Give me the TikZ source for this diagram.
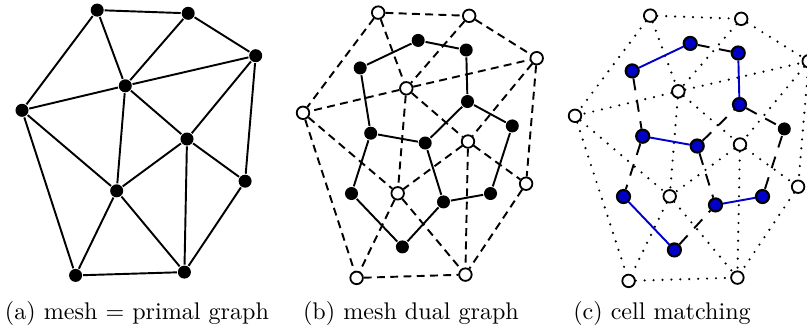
\documentclass[tikz,border=0pt]{standalone}
\usetikzlibrary{calc}
\definecolor{mblue}{RGB}{0,0,200}

\begin{document}
\begin{tikzpicture}[
      x=0.415pt, y=-0.415pt, line width=0.8pt,
      vert/.style={circle, fill, minimum size=5.4pt, inner sep=0pt},
      open/.style={circle, draw, fill=white, minimum size=5.2pt, inner sep=0pt, line width=0.75pt},
      matched/.style={circle, draw, fill=mblue, minimum size=5.4pt, inner sep=0pt, line width=0.9pt},
      dashedge/.style={dash pattern=on 3.3pt off 2.2pt},
      dualdash/.style={dash pattern=on 5pt off 4pt},
      dotedge/.style={line cap=round, dash pattern=on 0pt off 3.7pt, line width=1pt},
      matchedge/.style={mblue},
      every node/.style={font=\normalsize}]

      \useasboundingbox (0,0) rectangle (807,333);

      % mesh vertices, same mesh in every panel
      \foreach \p/\dx/\dy/\st in {a/0/0/vert, b/281/2.5/open, c/553/5.5/open}{
        \foreach \i/\x/\y in {1/97.2/10.1, 2/188.2/13.3, 3/255.7/55.7, 4/125.3/85.8, 5/22/110.3,
                              6/187/139, 7/245.1/181.2, 8/116.7/190.8, 9/75.6/275.4, 10/184.4/272.1}{
          \node[\st] (\p\i) at (\x+\dx, \y+\dy) {};
        }
      }
      % cells = dual vertices
      \foreach \i/\x/\y in {1/137.2/37.9, 2/185.2/47.5, 3/79.2/65.4, 4/89.7/130.7, 5/144.2/140.5, 6/186.5/99,
                            7/231.3/123.4, 8/70.5/191, 9/121.4/244.4, 10/162.5/199.4, 11/209.5/191}{
        \node[vert] (bd\i) at (\x+281, \y+2.5) {};
        \ifnum\i=7
          \node[vert] (cd\i) at (\x+553, \y+5.5) {};
        \else
          \node[matched] (cd\i) at (\x+553, \y+5.5) {};
        \fi
      }

      % mesh edges
      \foreach \p/\st in {a/solid, b/dashedge, c/dotedge}{
        \foreach \u/\v in {1/2, 2/3, 1/5, 1/4, 2/4, 4/3, 4/5, 4/6, 4/8, 3/6, 3/7, 5/8, 5/9,
                           6/8, 6/7, 6/10, 8/9, 8/10, 9/10, 7/10}{
          \draw[\st] (\p\u) -- (\p\v);
        }
      }
      % dual edges
      \foreach \u/\v in {1/3, 1/2, 2/6, 3/4, 5/6, 4/5, 6/7, 4/8, 5/10, 7/11, 10/11, 8/9, 9/10}{
        \draw (bd\u) -- (bd\v);
      }
      % matching
      \foreach \u/\v in {3/1, 2/6, 4/5, 8/9, 10/11}{ \draw[matchedge] (cd\u) -- (cd\v); }
      \foreach \u/\v in {1/2, 3/4, 4/8, 5/6, 5/10, 6/7, 7/11, 9/10}{ \draw[dualdash] (cd\u) -- (cd\v); }

      % captions
      \node[anchor=base] (capa) at (137,319) {(a) mesh $=$ primal graph};
      \node[anchor=base] (capb) at (411,319) {(b) mesh dual graph};
      \node[anchor=base] (capc) at (662,319) {(c) cell matching};
    \end{tikzpicture}
\end{document}
